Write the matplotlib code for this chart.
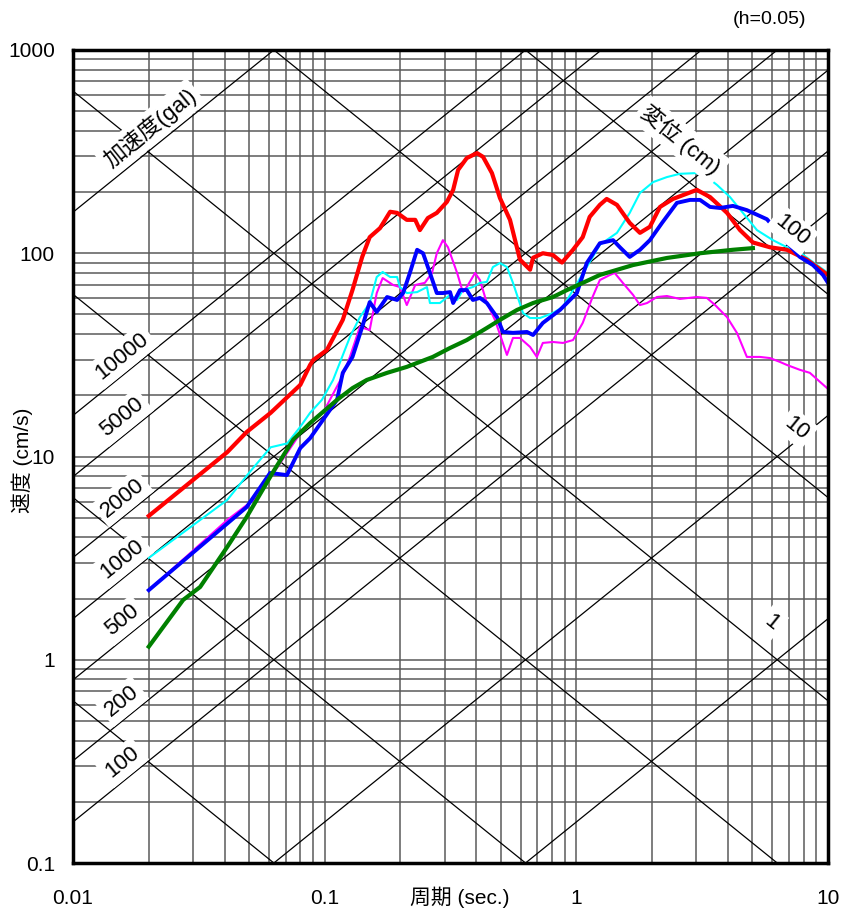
import numpy as np
from matplotlib import pyplot as plt

plt.rcParams['font.family'] = ['Liberation Sans', 'Noto Sans CJK JP', 'DejaVu Sans']

# response spectra (period sec, velocity cm/s)
red_T = [0.02, 0.041, 0.049, 0.061, 0.080, 0.0875, 0.090, 0.102, 0.118, 0.129, 0.141, 0.151,
         0.166, 0.182, 0.194, 0.212, 0.229, 0.239, 0.257, 0.279, 0.306, 0.324, 0.339, 0.367,
         0.403, 0.426, 0.462, 0.497, 0.545, 0.597, 0.655, 0.673, 0.736, 0.807, 0.877, 0.970,
         1.06, 1.13, 1.24, 1.32, 1.45, 1.63, 1.79, 1.96, 2.15, 2.42, 3.01, 3.40, 3.97, 4.47,
         5.03, 5.88, 6.87, 8.24, 10.0]
red_V = [5.1, 10.5, 13.2, 16.4, 22.5, 28.2, 29.8, 33.4, 47, 66, 96, 120,
         133, 160, 158, 146, 146, 130, 149, 158, 179, 205, 257, 294,
         311, 298, 248, 187, 146, 93, 83, 95, 100, 98, 90, 104,
         120, 151, 173, 185, 173, 141, 126, 135, 169, 185, 205, 189, 158, 130,
         113, 107, 104, 93, 78]

cyan_T = [0.02, 0.041, 0.050, 0.061, 0.071, 0.080, 0.0875, 0.0975, 0.108, 0.126, 0.138, 0.151,
          0.161, 0.170, 0.182, 0.194, 0.199, 0.212, 0.233, 0.255, 0.262, 0.287, 0.315, 0.336,
          0.354, 0.388, 0.414, 0.441, 0.466, 0.497, 0.530, 0.560, 0.614, 0.655, 0.717, 0.807,
          0.885, 0.970, 1.10, 1.24, 1.45, 1.63, 1.79, 2.02, 2.29, 2.58, 3.01, 3.30, 3.62, 4.08,
          4.59, 5.22, 6.04, 6.87, 7.73, 8.71, 10.0]
cyan_V = [3.17, 6.11, 8.29, 11.1, 11.6, 14.0, 16.4, 19.0, 23.8, 38.7, 48.5, 56.9,
          76.4, 80.9, 76.4, 76.4, 68.2, 63.7, 64.4, 68.2, 56.9, 56.9, 62.4, 58.9,
          65.9, 68.2, 71.5, 72.3, 85.5, 89.5, 85.5, 71.5, 50.8, 48.0, 48.0, 50.8,
          54.5, 65.9, 85.5, 110, 126, 158, 198, 224, 237, 246, 248, 237, 217, 189,
          158, 130, 116, 107, 101, 90.5, 80]

magenta_T = [0.02, 0.041, 0.054, 0.080, 0.100, 0.118, 0.126, 0.138, 0.151, 0.161, 0.170, 0.187,
             0.199, 0.212, 0.229, 0.250, 0.267, 0.279, 0.295, 0.309, 0.336, 0.354, 0.367, 0.396,
             0.414, 0.441, 0.475, 0.506, 0.530, 0.560, 0.597, 0.655, 0.697, 0.736, 0.807, 0.885,
             0.970, 1.06, 1.16, 1.24, 1.36, 1.42, 1.53, 1.68, 1.79, 1.91, 2.09, 2.29, 2.58, 3.01,
             3.30, 3.56, 3.97, 4.35, 4.76, 5.36, 5.88, 6.44, 6.87, 7.73, 8.47, 9.29, 10.0]
magenta_V = [2.2, 4.87, 6.32, 13.0, 17.0, 25.0, 30.9, 43.4, 41.9, 63.7, 75.5, 69.8,
             68.2, 55.6, 69.8, 71.5, 80, 100, 116, 107, 80, 64.4, 68.2, 80,
             73.8, 56.9, 47.0, 37.4, 31.6, 38.3, 38.3, 34.6, 30.9, 36.2, 36.6, 36.2,
             37.4, 45.4, 60.9, 73.8, 78.2, 80, 71.5, 62.4, 55.6, 56.9, 60.9, 61.6, 59.6, 60.9,
             60.3, 55.6, 48.5, 40.5, 30.9, 30.9, 30.5, 29.2, 28.2, 26.7, 25.8, 23.3, 21.5]

blue_T = [0.02, 0.049, 0.0607, 0.0708, 0.080, 0.0875, 0.112, 0.118, 0.129, 0.141, 0.151, 0.161,
          0.177, 0.194, 0.205, 0.218, 0.233, 0.246, 0.262, 0.279, 0.295, 0.315, 0.324, 0.345,
          0.367, 0.388, 0.414, 0.441, 0.484, 0.511, 0.560, 0.637, 0.673, 0.736, 0.861, 1.005,
          1.10, 1.24, 1.40, 1.49, 1.63, 1.79, 1.96, 2.19, 2.51, 2.83, 3.10, 3.40, 3.72, 4.19,
          4.76, 5.72, 7.73, 8.71, 9.55, 10.0]
blue_V = [2.2, 5.64, 8.3, 8.1, 11.0, 12.3, 19.0, 25.8, 30.9, 43.4, 57.5, 51.4,
          60.9, 58.9, 63.7, 80, 104, 100, 80, 63.7, 63.7, 64.4, 56.9, 65.9,
          65.9, 58.9, 60.3, 56.9, 48.5, 41.0, 40.6, 41.0, 39.6, 45.4, 52.6, 63.7,
          89.5, 112, 116, 107, 95.9, 104, 116, 141, 177, 183, 183, 169, 167, 171,
          163, 147, 95.9, 87.5, 78.2, 71.5]

green_T = [0.02, 0.0274, 0.032, 0.041, 0.049, 0.062, 0.075, 0.0875, 0.112, 0.129, 0.147, 0.177,
           0.212, 0.269, 0.315, 0.367, 0.441, 0.497, 0.581, 0.673, 0.807, 0.918, 1.06, 1.24,
           1.68, 2.29, 3.10, 4.19, 5.03]
green_V = [1.16, 1.97, 2.28, 3.59, 5.04, 8.29, 12.1, 14.6, 19.0, 21.7, 23.8, 25.8,
           27.6, 30.9, 34.2, 37.4, 42.9, 47.0, 52.6, 56.9, 60.9, 65.9, 71.5, 78.2,
           87.5, 94.8, 100, 104, 106]

# tripartite guide lines
accel_lines = [1, 10, 100, 200, 500, 1000, 2000, 5000, 10000, 100000]   # gal
accel_labels = [10000, 5000, 2000, 1000, 500, 200, 100]
disp_lines = [0.001, 0.01, 0.1, 1, 10, 100]                               # cm

x_ticks = [0.01, 0.1, 1, 10]
x_ticklabels = ['0.01', '0.1', '1', '10']
y_ticks = [0.1, 1, 10, 100, 1000]
y_ticklabels = ['0.1', '1', '10', '100', '1000']

fig = plt.figure(figsize=(8.43, 9.13), dpi=100)
ax = fig.add_axes([73/843, 1 - 863/913, 755/843, 813/913])
ax.set_xscale('log')
ax.set_yscale('log')
ax.set_xlim(0.01, 10)
ax.set_ylim(0.1, 1000)

ax.grid(which='both', color='#5a5a5a', lw=1.1, zorder=1)
ax.set_axisbelow(True)

T = np.logspace(-2, 1, 20)
for A in accel_lines:
    ax.plot(T, A*T/(2*np.pi), color='k', lw=0.9, zorder=2)
for D in disp_lines:
    ax.plot(T, 2*np.pi*D/T, color='k', lw=0.9, zorder=2)

ax.plot(magenta_T, magenta_V, color='#ff00ff', lw=1.5, zorder=3)
ax.plot(cyan_T, cyan_V, color='#00ffff', lw=1.5, zorder=3)
ax.plot(red_T, red_V, color='#ff0000', lw=3.0, zorder=3)
ax.plot(blue_T, blue_V, color='#0000ff', lw=2.8, zorder=3)
ax.plot(green_T, green_V, color='#008000', lw=3.0, zorder=3)

box = dict(facecolor='white', edgecolor='none', pad=3)
t_lab = 0.0157
for A in accel_labels:
    ax.text(t_lab, A*t_lab/(2*np.pi)*1.25, str(A), rotation=39, fontsize=16,
            ha='center', va='center', rotation_mode='anchor', bbox=box, zorder=5)
ax.text(0.0202, 413, '加速度(gal)', rotation=39, fontsize=16, ha='center', va='center',
        rotation_mode='anchor', bbox=box, zorder=5)
ax.text(2.6, 360, '変位 (cm)', rotation=-39, fontsize=16, ha='center', va='center',
        rotation_mode='anchor', bbox=box, zorder=5)
ax.text(7.2, 130, '100', rotation=-39, fontsize=16, ha='center', va='center',
        rotation_mode='anchor', bbox=box, zorder=5)
ax.text(7.52, 13.8, '10', rotation=-39, fontsize=16, ha='center', va='center',
        rotation_mode='anchor', bbox=box, zorder=5)
ax.text(5.98, 1.52, '1', rotation=-39, fontsize=16, ha='center', va='center',
        rotation_mode='anchor', bbox=box, zorder=5)

ax.set_xticks(x_ticks)
ax.set_xticklabels(x_ticklabels)
ax.set_yticks(y_ticks)
ax.set_yticklabels(y_ticklabels)
ax.xaxis.set_minor_formatter(plt.NullFormatter())
ax.yaxis.set_minor_formatter(plt.NullFormatter())
ax.tick_params(which='both', length=0, labelsize=15)
ax.tick_params(axis='x', pad=19)
ax.tick_params(axis='y', pad=13)

for s in ax.spines.values():
    s.set_linewidth(2.5)
    s.set_zorder(6)

fig.text(460/843, 1 - 897/913, '周期 (sec.)', fontsize=15, ha='center', va='center')
fig.text(22/843, 1 - 460/913, '速度 (cm/s)', fontsize=15, ha='center', va='center',
         rotation=90)
fig.text(770/843, 1 - 19/913, '(h=0.05)', fontsize=14, ha='center', va='center')

fig.savefig('out.png', dpi=100)
